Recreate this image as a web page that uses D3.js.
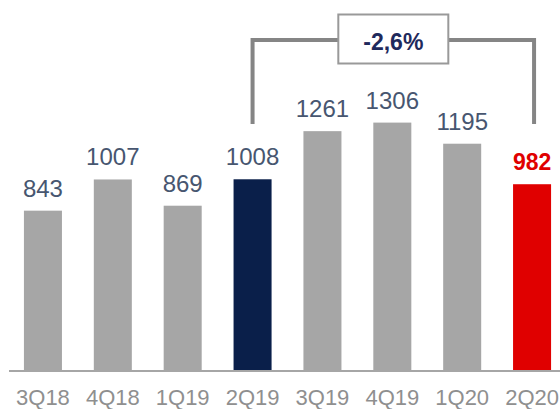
<!DOCTYPE html>
<html>
<head>
<meta charset="utf-8">
<script src="https://cdn.jsdelivr.net/npm/d3@7"></script>
<style>
  body { margin: 0; background: #fff; }
  svg { display: block; font-family: "Liberation Sans", Arial, sans-serif; }
</style>
</head>
<body>
<div id="app"></div>
<script>
// quarters and values
const quarters = ["3Q18", "4Q18", "1Q19", "2Q19", "3Q19", "4Q19", "1Q20", "2Q20"];
const values = [843, 1007, 869, 1008, 1261, 1306, 1195, 982];
const barColors = ["#a6a6a6", "#a6a6a6", "#a6a6a6", "#0a1f4a", "#a6a6a6", "#a6a6a6", "#a6a6a6", "#e00000"];
const changeLabel = "-2,6%";
const changeFrom = "2Q19";
const changeTo = "2Q20";

let width = 560;
let height = 409;
let baseY = 371;

let svg = d3.select("#app")
    .append("svg")
        .attr("width", width)
        .attr("height", height)

let x = d3.scaleBand()
    .domain(quarters)
    .range([8, 567])
    .paddingInner(0.456)
    .paddingOuter(0.228)

let y = d3.scaleLinear()
    .domain([0, 1306])
    .range([baseY, baseY - 1306 * 0.1902])

// bars
svg.append("g").selectAll("rect")
    .data(quarters)
    .enter().append("rect")
        .attr("x", d => x(d))
        .attr("y", (d, i) => y(values[i]))
        .attr("width", x.bandwidth())
        .attr("height", (d, i) => y(0) - y(values[i]))
        .attr("fill", (d, i) => barColors[i])

// baseline
svg.append("line")
    .attr("x1", 9).attr("x2", width)
    .attr("y1", baseY).attr("y2", baseY)
    .attr("stroke", "#a6a6a6")
    .attr("stroke-width", 2)

// x labels
let xAxis = svg.append("g")
    .attr("transform", "translate(0," + baseY + ")")
    .call(d3.axisBottom(x).tickSize(0).tickPadding(18))
xAxis.select(".domain").remove()
xAxis.selectAll("text")
    .attr("fill", "#8f8f8f")
    .attr("dy", 0)
    .attr("y", 34)
    .style("font-size", "22px")
    .style("font-family", "'Liberation Sans', Arial, sans-serif")

// value labels
svg.append("g").selectAll("text")
    .data(quarters)
    .enter().append("text")
        .attr("x", d => x(d) + x.bandwidth() / 2)
        .attr("y", (d, i) => y(values[i]) - 14)
        .attr("text-anchor", "middle")
        .attr("fill", (d, i) => i == quarters.length - 1 ? "#e00000" : "#475670")
        .style("font-size", (d, i) => i == quarters.length - 1 ? "23px" : "24px")
        .style("font-weight", (d, i) => i == quarters.length - 1 ? "bold" : "normal")
        .text((d, i) => values[i])

// bracket from center to center
let bx1 = x(changeFrom) + x.bandwidth() / 2;
let bx2 = x(changeTo) + x.bandwidth() / 2 + 2;
let bTop = 40;
svg.append("path")
    .attr("d", `M${bx1},124 V${bTop} H${bx2} V124`)
    .attr("fill", "none")
    .attr("stroke", "#858585")
    .attr("stroke-width", 4)

// box with the change
let boxW = 110, boxH = 49;
let boxX = (bx1 + bx2) / 2 - boxW / 2;
svg.append("rect")
    .attr("x", boxX).attr("y", 14.5)
    .attr("width", boxW).attr("height", boxH)
    .attr("fill", "#fff")
    .attr("stroke", "#999")
    .attr("stroke-width", 2)
svg.append("text")
    .attr("x", boxX + boxW / 2)
    .attr("y", 49.5)
    .attr("text-anchor", "middle")
    .attr("fill", "#1f2a5c")
    .style("font-size", "23px")
    .style("font-weight", "bold")
    .text(changeLabel)
</script>
</body>
</html>
